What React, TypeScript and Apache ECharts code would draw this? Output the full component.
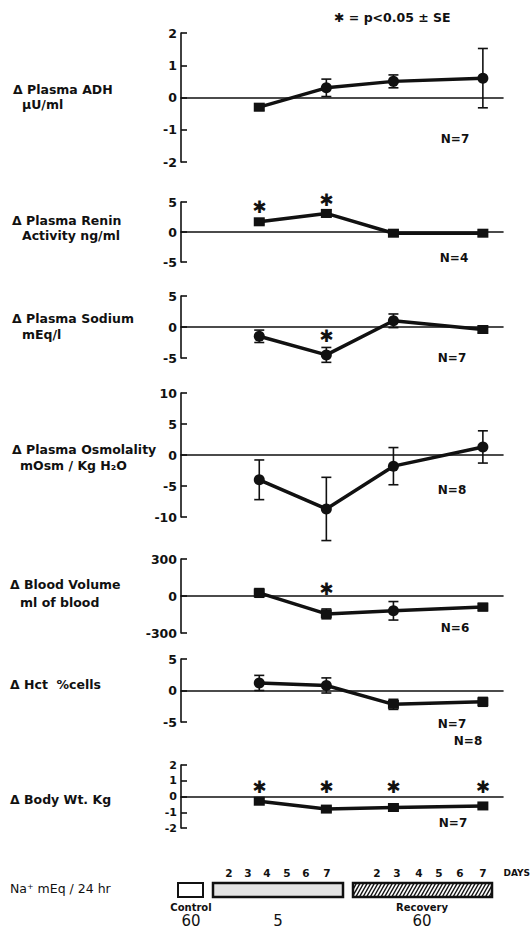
import React, { useEffect, useRef } from "react";
import * as echarts from "echarts";

// ---- data ----
const studyDays = [4, 7, 10, 14]; // low-Na day 4, low-Na day 7, recovery day 3, recovery day 7

const adhMean = [-0.3, 0.3, 0.5, 0.6];
const adhSE = [0.1, 0.27, 0.2, 0.92];
const reninMean = [1.7, 3.1, -0.2, -0.2];
const reninSE = [0.4, 0.6, 0.5, 0.5];
const sodiumMean = [-1.5, -4.5, 1.0, -0.4];
const sodiumSE = [1.0, 1.2, 1.1, 0.5];
const osmoMean = [-4.0, -8.7, -1.8, 1.3];
const osmoSE = [3.2, 5.1, 3.0, 2.6];
const bloodVolMean = [25, -145, -120, -90];
const bloodVolSE = [35, 40, 75, 30];
const hctMean = [1.2, 0.8, -2.2, -1.8];
const hctSE = [1.2, 1.2, 0.8, 0.7];
const bodyWtMean = [-0.3, -0.8, -0.7, -0.6];
const bodyWtSE = [0.15, 0.15, 0.12, 0.15];

// significance stars [study day, y position in panel units]
const adhStars: number[][] = [];
const reninStars = [[4, 4.1], [7, 5.4]];
const sodiumStars = [[7, -1.4]];
const osmoStars: number[][] = [];
const bloodVolStars = [[7, 60]];
const hctStars: number[][] = [];
const bodyWtStars = [[4, 0.6], [7, 0.6], [10, 0.6], [14, 0.6]];

const panelTitles = [
  ["Δ Plasma ADH", "µU/ml"],
  ["Δ Plasma Renin", "Activity ng/ml"],
  ["Δ Plasma Sodium", "mEq/l"],
  ["Δ Plasma Osmolality", "mOsm / Kg H₂O"],
  ["Δ Blood Volume", "ml of blood"],
  ["Δ Hct  %cells"],
  ["Δ Body Wt. Kg"],
];
const nLabels = [["N=7"], ["N=4"], ["N=7"], ["N=8"], ["N=6"], ["N=7", "N=8"], ["N=7"]];
const axisRanges = [
  [-2, 2, 1],
  [-5, 5, 5],
  [-5, 5, 5],
  [-10, 10, 5],
  [-300, 300, 300],
  [-5, 5, 5],
  [-2, 2, 1],
];

const lowNaDays = ["2", "3", "4", "5", "6", "7"];
const recoveryDays = ["2", "3", "4", "5", "6", "7"];
const sodiumIntake = ["60", "5", "60"];

// ---- layout (pixels) ----
const FONT = '"DejaVu Sans", sans-serif';
const INK = "#111";
const gridBox = [
  [33, 129],
  [202, 60],
  [296, 62],
  [393, 124],
  [559, 74],
  [659, 63],
  [765, 63],
];
const titlePos = [
  [[13, 89], [22, 104]],
  [[12, 220], [22, 235]],
  [[12, 318], [22, 334]],
  [[12, 449], [20, 465]],
  [[10, 584], [20, 602]],
  [[10, 684]],
  [[10, 799]],
];
const nPos = [
  [[455, 139]],
  [[454, 258]],
  [[452, 358]],
  [[452, 490]],
  [[455, 628]],
  [[452, 724], [468, 741]],
  [[453, 823]],
];

const panelData = [
  { mean: adhMean, se: adhSE, stars: adhStars, sym: ["rect", "circle", "circle", "circle"] },
  { mean: reninMean, se: reninSE, stars: reninStars, sym: ["rect", "rect", "rect", "rect"] },
  { mean: sodiumMean, se: sodiumSE, stars: sodiumStars, sym: ["circle", "circle", "circle", "rect"] },
  { mean: osmoMean, se: osmoSE, stars: osmoStars, sym: ["circle", "circle", "circle", "circle"] },
  { mean: bloodVolMean, se: bloodVolSE, stars: bloodVolStars, sym: ["rect", "rect", "circle", "rect"] },
  { mean: hctMean, se: hctSE, stars: hctStars, sym: ["circle", "circle", "rect", "rect"] },
  { mean: bodyWtMean, se: bodyWtSE, stars: bodyWtStars, sym: ["rect", "rect", "rect", "rect"] },
];

function buildOption() {
  const grids: any[] = [];
  const xAxes: any[] = [];
  const yAxes: any[] = [];
  const series: any[] = [];
  const graphics: any[] = [];

  panelData.forEach((p, i) => {
    const [top, height] = gridBox[i];
    const [mn, mx, iv] = axisRanges[i];
    grids.push({ left: 181, right: 29, top, height, containLabel: false });
    xAxes.push({
      gridIndex: i,
      type: "value",
      min: 0.5,
      max: 14.9,
      axisLine: { show: true, onZero: true, lineStyle: { color: INK, width: 1.6 } },
      axisTick: { show: false },
      axisLabel: { show: false },
      splitLine: { show: false },
    });
    yAxes.push({
      gridIndex: i,
      type: "value",
      min: mn,
      max: mx,
      interval: iv,
      axisLine: { show: true, lineStyle: { color: INK, width: 1.6 } },
      axisTick: { show: true, inside: true, length: 6, lineStyle: { color: INK, width: 1.6 } },
      axisLabel: {
        color: INK,
        fontFamily: FONT,
        fontWeight: "bold",
        fontSize: i === 6 ? 11 : 12.5,
        margin: 4,
      },
      splitLine: { show: false },
    });
    series.push({
      type: "custom",
      xAxisIndex: i,
      yAxisIndex: i,
      data: studyDays.map((d, j) => [d, p.mean[j], p.se[j]]),
      encode: { x: 0, y: 1 },
      z: 3,
      renderItem: (params: any, api: any) => {
        const x = api.value(0);
        const m = api.value(1);
        const s = api.value(2);
        const hi = api.coord([x, m + s]);
        const lo = api.coord([x, m - s]);
        const hw = 5;
        const st = { stroke: INK, lineWidth: 1.6 };
        return {
          type: "group",
          children: [
            { type: "line", shape: { x1: hi[0], y1: hi[1], x2: lo[0], y2: lo[1] }, style: st },
            { type: "line", shape: { x1: hi[0] - hw, y1: hi[1], x2: hi[0] + hw, y2: hi[1] }, style: st },
            { type: "line", shape: { x1: lo[0] - hw, y1: lo[1], x2: lo[0] + hw, y2: lo[1] }, style: st },
          ],
        };
      },
    });
    series.push({
      type: "line",
      xAxisIndex: i,
      yAxisIndex: i,
      z: 4,
      data: studyDays.map((d, j) => ({
        value: [d, p.mean[j]],
        symbol: p.sym[j],
        symbolSize: p.sym[j] === "rect" ? [11, 9] : 11,
      })),
      lineStyle: { color: INK, width: 3.5 },
      itemStyle: { color: INK },
      showSymbol: true,
    });
    if (p.stars.length) {
      series.push({
        type: "custom",
        xAxisIndex: i,
        yAxisIndex: i,
        data: p.stars,
        encode: { x: 0, y: 1 },
        z: 5,
        renderItem: (params: any, api: any) => {
          const c = api.coord([api.value(0), api.value(1)]);
          return {
            type: "text",
            x: c[0],
            y: c[1],
            style: {
              text: "✱",
              fill: INK,
              fontSize: 17,
              fontFamily: FONT,
              align: "center",
              verticalAlign: "middle",
            },
          };
        },
      });
    }
    panelTitles[i].forEach((t, k) => {
      graphics.push({
        type: "text",
        x: titlePos[i][k][0],
        y: titlePos[i][k][1],
        style: {
          text: t,
          fill: INK,
          fontSize: 12.5,
          fontWeight: "bold",
          fontFamily: FONT,
          verticalAlign: "middle",
          align: "left",
        },
      });
    });
    nLabels[i].forEach((t, k) => {
      graphics.push({
        type: "text",
        x: nPos[i][k][0],
        y: nPos[i][k][1],
        style: {
          text: t,
          fill: INK,
          fontSize: 12,
          fontWeight: "bold",
          fontFamily: FONT,
          verticalAlign: "middle",
          align: "center",
        },
      });
    });
  });

  // legend note
  graphics.push({
    type: "text",
    x: 334,
    y: 17,
    style: {
      text: "✱ = p<0.05 ± SE",
      fill: INK,
      fontSize: 12.5,
      fontWeight: "bold",
      fontFamily: FONT,
      verticalAlign: "middle",
      align: "left",
    },
  });

  // sodium intake timeline
  const boxTop = 883;
  const boxH = 14;
  graphics.push({
    type: "text",
    x: 10,
    y: 888,
    style: { text: "Na⁺ mEq / 24 hr", fill: INK, fontSize: 12.5, fontFamily: FONT, verticalAlign: "middle", align: "left" },
  });
  graphics.push({
    type: "rect",
    shape: { x: 178, y: boxTop, width: 25, height: boxH },
    style: { fill: "#fff", stroke: INK, lineWidth: 2 },
  });
  graphics.push({
    type: "rect",
    shape: { x: 213, y: boxTop, width: 130, height: boxH },
    style: { fill: "#e4e4e4", stroke: INK, lineWidth: 2.5 },
  });
  const rx0 = 353;
  const rx1 = 492;
  graphics.push({
    type: "rect",
    shape: { x: rx0, y: boxTop, width: rx1 - rx0, height: boxH },
    style: { fill: "#fff", stroke: INK, lineWidth: 2.5 },
  });
  const slant = 8;
  for (let s = rx0 - slant; s < rx1; s += 3.6) {
    const tMin = Math.max(0, (rx0 - s) / slant);
    const tMax = Math.min(1, (rx1 - s) / slant);
    if (tMin >= tMax) continue;
    graphics.push({
      type: "line",
      shape: {
        x1: s + slant * tMin,
        y1: boxTop + boxH - boxH * tMin,
        x2: s + slant * tMax,
        y2: boxTop + boxH - boxH * tMax,
      },
      style: { stroke: INK, lineWidth: 1.5 },
    });
  }
  const lowX = [229, 248, 267, 287, 306, 327];
  const recX = [377, 397, 419, 439, 460, 483];
  lowNaDays.forEach((d, k) =>
    graphics.push({
      type: "text",
      x: lowX[k],
      y: 873,
      style: { text: d, fill: INK, fontSize: 10.5, fontWeight: "bold", fontFamily: FONT, align: "center", verticalAlign: "middle" },
    })
  );
  recoveryDays.forEach((d, k) =>
    graphics.push({
      type: "text",
      x: recX[k],
      y: 873,
      style: { text: d, fill: INK, fontSize: 10.5, fontWeight: "bold", fontFamily: FONT, align: "center", verticalAlign: "middle" },
    })
  );
  graphics.push({
    type: "text",
    x: 530,
    y: 873,
    style: { text: "DAYS", fill: INK, fontSize: 9, fontWeight: "bold", fontFamily: FONT, align: "right", verticalAlign: "middle" },
  });
  graphics.push({
    type: "text",
    x: 191,
    y: 907,
    style: { text: "Control", fill: INK, fontSize: 10, fontWeight: "bold", fontFamily: FONT, align: "center", verticalAlign: "middle" },
  });
  graphics.push({
    type: "text",
    x: 422,
    y: 907,
    style: { text: "Recovery", fill: INK, fontSize: 10, fontWeight: "bold", fontFamily: FONT, align: "center", verticalAlign: "middle" },
  });
  const intakeX = [191, 278, 422];
  sodiumIntake.forEach((v, k) =>
    graphics.push({
      type: "text",
      x: intakeX[k],
      y: 921,
      style: { text: v, fill: INK, fontSize: 15, fontFamily: FONT, align: "center", verticalAlign: "middle" },
    })
  );

  return {
    animation: false,
    backgroundColor: "#fff",
    grid: grids,
    xAxis: xAxes,
    yAxis: yAxes,
    series,
    graphic: graphics,
  };
}

export default function App() {
  const ref = useRef<HTMLDivElement>(null);
  useEffect(() => {
    if (!ref.current) return;
    const chart = echarts.init(ref.current, null, { renderer: "svg" });
    chart.setOption(buildOption() as any);
    return () => chart.dispose();
  }, []);
  return (
    <div
      ref={ref}
      style={{ position: "absolute", left: 0, top: 0, width: 532, height: 929, background: "#fff" }}
    />
  );
}
